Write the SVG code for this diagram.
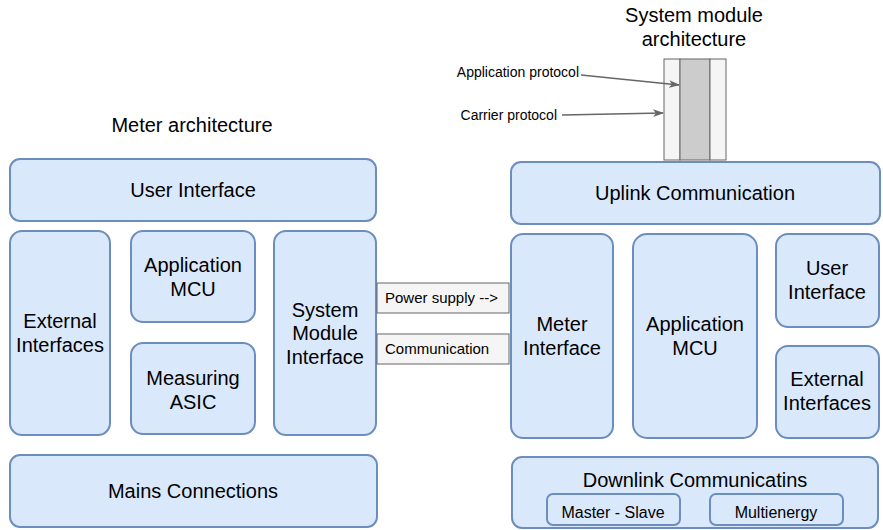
<svg xmlns="http://www.w3.org/2000/svg" width="883" height="530" viewBox="0 0 883 530">
  <defs>
    <style>
      .blk { fill: #dae8fc; stroke: #6c8ebf; stroke-width: 2; }
      .tag { fill: #f5f5f5; stroke: #666666; stroke-width: 1; }
      .layer { stroke: #666666; stroke-width: 1; }
      .t { font-family: "Liberation Sans", Arial, Helvetica, sans-serif; fill: #000000; text-anchor: middle; }
      .t20 { font-size: 20px; }
      .t16 { font-size: 16px; }
      .t15 { font-size: 15px; }
      .t14 { font-size: 14px; }
      .left { text-anchor: start; }
      .wire { fill: none; stroke: #666666; stroke-width: 1.5; }
    </style>
    <marker id="head" viewBox="0 0 10 10" refX="9" refY="5" markerWidth="11" markerHeight="11" orient="auto" markerUnits="userSpaceOnUse">
      <path d="M0,1.5 L10,5 L0,8.5 L2.5,5 Z" fill="#666666"/>
    </marker>
  </defs>

  <!-- Titles -->
  <text class="t t20" x="192" y="132">Meter architecture</text>
  <text class="t t20" x="694" y="22">System module</text>
  <text class="t t20" x="694" y="46">architecture</text>

  <!-- Meter side -->
  <g id="meter-user-interface">
    <rect class="blk" x="10" y="159" width="366" height="62" rx="10"/>
    <text class="t t20" x="193" y="197">User Interface</text>
  </g>
  <g id="meter-external-interfaces">
    <rect class="blk" x="10" y="231" width="100" height="204" rx="12"/>
    <text class="t t20" x="60" y="328">External</text>
    <text class="t t20" x="60" y="352">Interfaces</text>
  </g>
  <g id="meter-application-mcu">
    <rect class="blk" x="131" y="231" width="124" height="91" rx="12"/>
    <text class="t t20" x="193" y="272">Application</text>
    <text class="t t20" x="193" y="296">MCU</text>
  </g>
  <g id="meter-measuring-asic">
    <rect class="blk" x="131" y="343" width="124" height="91" rx="12"/>
    <text class="t t20" x="193" y="385">Measuring</text>
    <text class="t t20" x="193" y="409">ASIC</text>
  </g>
  <g id="meter-system-module-interface">
    <rect class="blk" x="274" y="231" width="102" height="204" rx="12"/>
    <text class="t t20" x="325" y="317">System</text>
    <text class="t t20" x="325" y="340">Module</text>
    <text class="t t20" x="325" y="364">Interface</text>
  </g>
  <g id="meter-mains-connections">
    <rect class="blk" x="10" y="455" width="367" height="72" rx="10"/>
    <text class="t t20" x="193" y="498">Mains Connections</text>
  </g>

  <!-- Interface between the two sides -->
  <g id="link-power-supply">
    <rect class="tag" x="377" y="283" width="132" height="30"/>
    <text class="t t15 left" x="385" y="303">Power supply --&gt;</text>
  </g>
  <g id="link-communication">
    <rect class="tag" x="377" y="334" width="132" height="30"/>
    <text class="t t15 left" x="385" y="354">Communication</text>
  </g>

  <!-- System module side -->
  <g id="protocol-stack">
    <rect class="layer" x="664" y="59" width="16" height="101" fill="#f5f5f5"/>
    <rect class="layer" x="680" y="59" width="30" height="101" fill="#cccccc"/>
    <rect class="layer" x="710" y="59" width="16" height="101" fill="#f5f5f5"/>
  </g>
  <g id="module-uplink">
    <rect class="blk" x="511" y="162" width="369" height="62" rx="10"/>
    <text class="t t20" x="695" y="200">Uplink Communication</text>
  </g>
  <g id="module-meter-interface">
    <rect class="blk" x="511" y="234" width="102" height="204" rx="12"/>
    <text class="t t20" x="562" y="331">Meter</text>
    <text class="t t20" x="562" y="355">Interface</text>
  </g>
  <g id="module-application-mcu">
    <rect class="blk" x="633" y="234" width="124" height="204" rx="14"/>
    <text class="t t20" x="695" y="331">Application</text>
    <text class="t t20" x="695" y="355">MCU</text>
  </g>
  <g id="module-user-interface">
    <rect class="blk" x="776" y="234" width="103" height="93" rx="12"/>
    <text class="t t20" x="827" y="275">User</text>
    <text class="t t20" x="827" y="299">Interface</text>
  </g>
  <g id="module-external-interfaces">
    <rect class="blk" x="776" y="346" width="103" height="92" rx="12"/>
    <text class="t t20" x="827" y="386">External</text>
    <text class="t t20" x="827" y="410">Interfaces</text>
  </g>
  <g id="module-downlink">
    <rect class="blk" x="512" y="457" width="366" height="71" rx="10"/>
    <text class="t t20" x="695" y="487">Downlink Communicatins</text>
  </g>
  <g id="module-master-slave">
    <rect class="blk" x="547" y="494" width="133" height="31" rx="6"/>
    <text class="t t16" x="613" y="518">Master - Slave</text>
  </g>
  <g id="module-multienergy">
    <rect class="blk" x="710" y="494" width="133" height="31" rx="6"/>
    <text class="t t16" x="776" y="518">Multienergy</text>
  </g>

  <!-- Protocol callouts -->
  <text class="t t14" x="579" y="77" style="text-anchor:end">Application protocol</text>
  <text class="t t14" x="557" y="120" style="text-anchor:end">Carrier protocol</text>

  <g id="connectors">
    <path class="wire" d="M581,75 L679,85" marker-end="url(#head)"/>
    <path class="wire" d="M562,115 L663,113" marker-end="url(#head)"/>
  </g>
</svg>
